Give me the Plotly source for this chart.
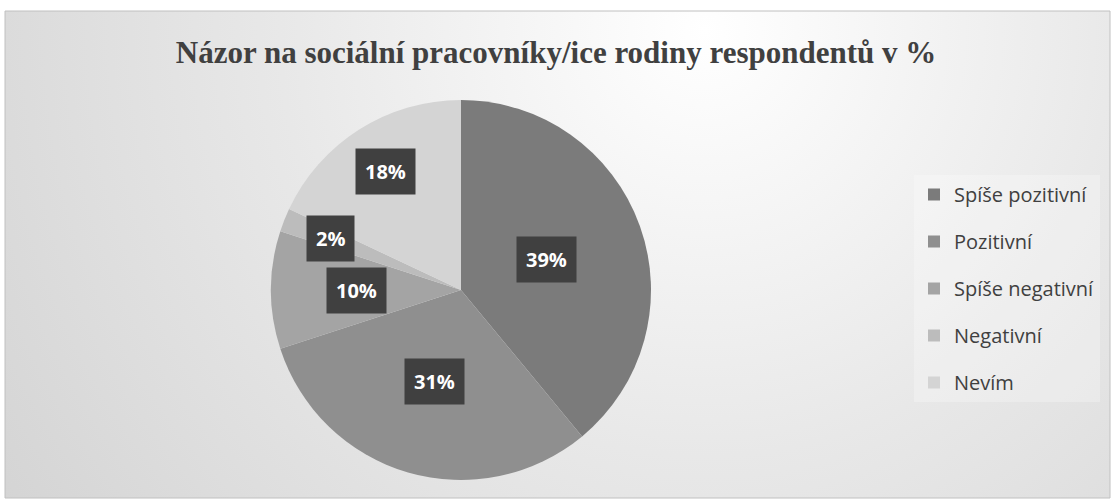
import math
import base64
import plotly.graph_objects as go

labels = ["Spíše pozitivní", "Pozitivní", "Spíše negativní", "Negativní", "Nevím"]
values = [39, 31, 10, 2, 18]
colors = ["#7b7b7b", "#8f8f8f", "#a4a4a4", "#bcbcbc", "#d4d4d4"]
label_texts = ["39%", "31%", "10%", "2%", "18%"]
label_radius = [0.48, 0.50, 0.55, 0.74, 0.74]

W, H = 1115, 501
cx_px, cy_px, R = 461, 290, 190

svg = f'''<svg xmlns="http://www.w3.org/2000/svg" width="1105" height="487">
<defs><radialGradient id="g" gradientUnits="userSpaceOnUse" cx="700" cy="20" r="850">
<stop offset="0" stop-color="#ffffff"/><stop offset="0.5" stop-color="#e8e8e8"/><stop offset="1" stop-color="#d4d4d4"/>
</radialGradient></defs><rect width="1105" height="487" fill="url(#g)"/></svg>'''
src = "data:image/svg+xml;base64," + base64.b64encode(svg.encode()).decode()

fig = go.Figure()
fig.add_trace(go.Pie(
    labels=labels, values=values, sort=False, direction="clockwise", rotation=0,
    marker=dict(colors=colors, line=dict(width=0)),
    textinfo="none", hoverinfo="label+percent", showlegend=False,
    domain=dict(x=[(cx_px - R) / W, (cx_px + R) / W], y=[1 - (cy_px + R) / H, 1 - (cy_px - R) / H]),
))
for lab, col in zip(labels, colors):
    fig.add_trace(go.Scatter(x=[None], y=[None], mode="markers", name=lab, legendgroup=lab,
                             marker=dict(symbol="square", size=13, color=col)))

total = sum(values)
cum = 0
for v, t, rf in zip(values, label_texts, label_radius):
    mid = (cum + v / 2) / total * 2 * math.pi
    cum += v
    x = (cx_px + rf * R * math.sin(mid)) / W
    y = 1 - (cy_px - rf * R * math.cos(mid)) / H
    fig.add_annotation(x=x, y=y, xref="paper", yref="paper", text=f"<b>{t}</b>", showarrow=False,
                       xanchor="center", yanchor="middle",
                       font=dict(family="Open Sans", size=20, color="white"),
                       bgcolor="#404040", borderpad=9)

fig.add_layout_image(dict(source=src, xref="paper", yref="paper", x=5 / W, y=1 - 11 / H,
                          sizex=1105 / W, sizey=487 / H, xanchor="left", yanchor="top",
                          sizing="stretch", layer="below"))
fig.add_shape(type="rect", xref="paper", yref="paper", x0=5 / W, x1=1110 / W, y0=1 - 498 / H, y1=1 - 11 / H,
              line=dict(color="#c0c0c0", width=1))

fig.update_layout(
    width=W, height=H, margin=dict(l=0, r=0, t=0, b=0),
    paper_bgcolor="white", plot_bgcolor="rgba(0,0,0,0)",
    xaxis=dict(visible=False), yaxis=dict(visible=False),
    title=dict(text="<b>Názor na sociální pracovníky/ice rodiny respondentů v %</b>",
               x=0.4987, y=1 - 52 / H, xanchor="center", yanchor="middle",
               font=dict(family="Liberation Serif", size=31, color="#404040")),
    legend=dict(x=914 / W, y=1 - 175 / H, xanchor="left", yanchor="top",
                font=dict(family="Open Sans", size=20, color="#404040"),
                bgcolor="rgba(255,255,255,0.25)", tracegroupgap=18, itemsizing="constant",
                itemwidth=30),
)
fig.write_html("out.html", post_script="document.body.style.margin='0';",
               config={"displayModeBar": False})
